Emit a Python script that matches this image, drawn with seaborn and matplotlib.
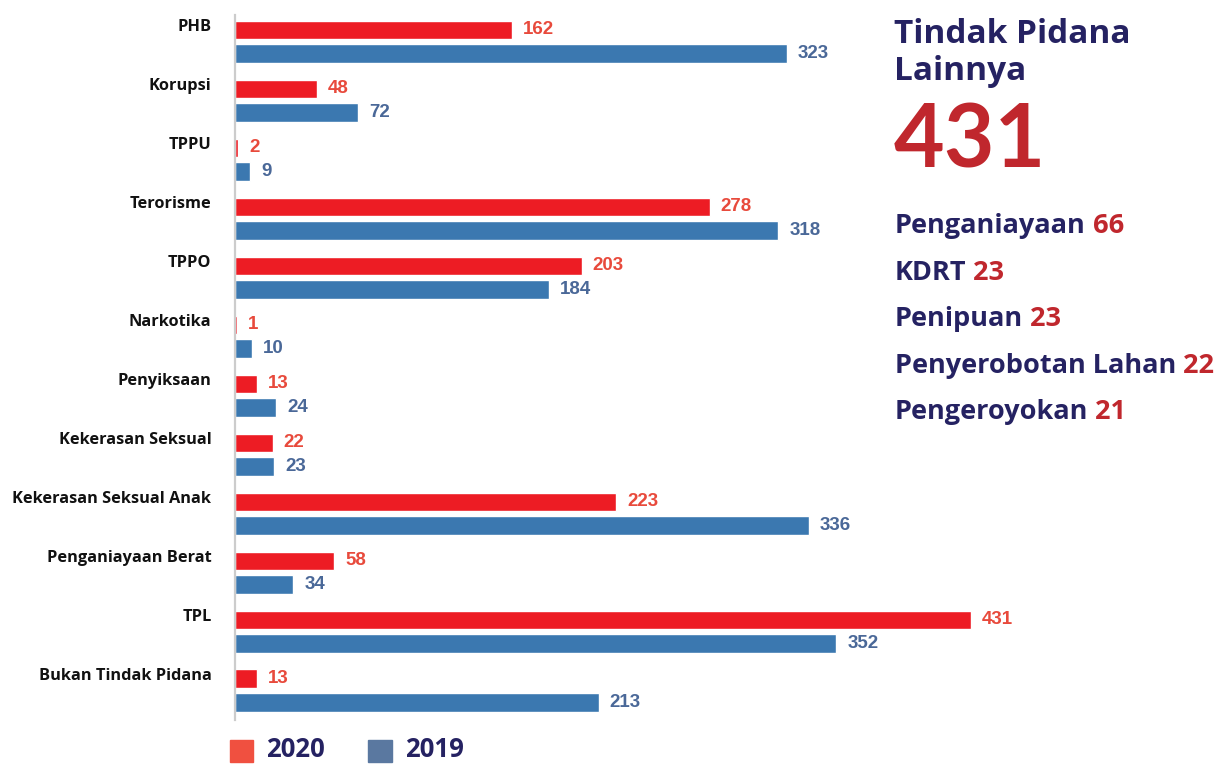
import numpy as np
import pandas as pd
import matplotlib
matplotlib.use("Agg")
import matplotlib.pyplot as plt
from matplotlib.patches import Rectangle
import seaborn as sns

categories = ["PHB", "Korupsi", "TPPU", "Terorisme", "TPPO", "Narkotika", "Penyiksaan",
              "Kekerasan Seksual", "Kekerasan Seksual Anak", "Penganiayaan Berat", "TPL",
              "Bukan Tindak Pidana"]
values_2020 = [162, 48, 2, 278, 203, 1, 13, 22, 223, 58, 431, 13]
values_2019 = [323, 72, 9, 318, 184, 10, 24, 23, 336, 34, 352, 213]
years = ["2020", "2019"]

side_title = "Tindak Pidana\nLainnya"
side_total = "431"
side_items = ["Penganiayaan", "KDRT", "Penipuan", "Penyerobotan Lahan", "Pengeroyokan"]
side_values = [66, 23, 23, 22, 21]

RED = "#ed1c24"
BLUE = "#3b78b0"
RED_TXT = "#e84a3c"
BLUE_TXT = "#4a6898"
NAVY = "#252262"
DARKRED = "#c0272d"
GEO = ["Open Sans", "DejaVu Sans"]

df = pd.DataFrame({
    "cat": categories * 2,
    "value": values_2020 + values_2019,
    "year": [years[0]] * len(categories) + [years[1]] * len(categories),
})

sns.set_theme(style="white")
plt.rcParams["font.family"] = GEO

W, H = 1227, 765
fig = plt.figure(figsize=(W / 100, H / 100), dpi=100)
ax_left, ax_right = 235, 1000
ax_top, ax_bot = 15, 720
ax = fig.add_axes([ax_left / W, 1 - ax_bot / H, (ax_right - ax_left) / W, (ax_bot - ax_top) / H])

sns.barplot(data=df, y="cat", x="value", hue="year", orient="h",
            palette=[RED, BLUE], width=0.8, gap=0.22, legend=False, ax=ax,
            saturation=1)

px_per_unit = (971 - 235) / 431
ax.set_xlim(0, (ax_right - ax_left) / px_per_unit)
ax.set_ylim(11.5, -0.45)

for cont, col in zip(ax.containers, [RED_TXT, BLUE_TXT]):
    ax.bar_label(cont, padding=8, fontsize=13.5, color=col, fontweight="bold",
                 family="Liberation Sans")

ax.set_yticks(np.arange(len(categories)) - 0.28, labels=categories)
ax.tick_params(axis="y", length=0, pad=17)
for t in ax.get_yticklabels():
    t.set_fontweight("bold")
    t.set_fontsize(11.8)
    t.set_color("#111111")
ax.set_xticks([])
ax.set_xlabel("")
ax.set_ylabel("")
for s in ["top", "right", "bottom"]:
    ax.spines[s].set_visible(False)
ax.spines["left"].set_color("#cccccc")
ax.spines["left"].set_linewidth(1.6)

# Side panel
fig.text(894 / W, 1 - 43 / H, side_title.split("\n")[0], ha="left", va="baseline",
         fontsize=24, fontweight="bold", color=NAVY)
fig.text(894 / W, 1 - 80 / H, side_title.split("\n")[1], ha="left", va="baseline",
         fontsize=24, fontweight="bold", color=NAVY)
fig.text(894 / W, 1 - 168 / H, side_total, ha="left", va="baseline", fontsize=63,
         fontweight="bold", color=DARKRED, family=["Lato", "DejaVu Sans"])
y0 = 233
for i, (lab, v) in enumerate(zip(side_items, side_values)):
    t = fig.text(895 / W, 1 - (y0 + i * 46.5) / H, lab, ha="left", va="baseline",
                 fontsize=19.5, fontweight="bold", color=NAVY)
    ax.annotate(" " + str(v), xy=(1, 0), xycoords=t, ha="left", va="bottom",
                fontsize=19.5, fontweight="bold", color=DARKRED,
                annotation_clip=False)

# Legend
fig.patches.append(Rectangle((230 / W, 1 - 762 / H), 23 / W, 22 / H,
                             transform=fig.transFigure, color="#f05040", figure=fig))
fig.text(266 / W, 1 - 757 / H, years[0], ha="left", va="baseline", fontsize=18.5,
         fontweight="bold", color=NAVY)
fig.patches.append(Rectangle((368 / W, 1 - 762 / H), 24 / W, 22 / H,
                             transform=fig.transFigure, color="#5a78a0", figure=fig))
fig.text(405 / W, 1 - 757 / H, years[1], ha="left", va="baseline", fontsize=18.5,
         fontweight="bold", color=NAVY)

fig.savefig("out.png", dpi=100)
